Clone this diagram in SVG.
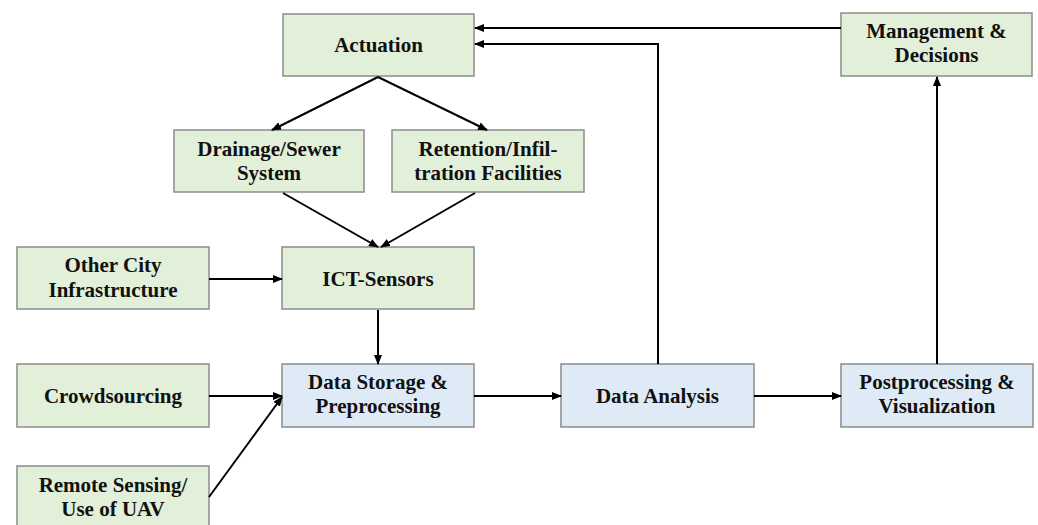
<svg xmlns="http://www.w3.org/2000/svg" width="1038" height="525" viewBox="0 0 1038 525">
<defs>
<marker id="ah" markerUnits="userSpaceOnUse" markerWidth="10" markerHeight="8" refX="9" refY="4" orient="auto">
<path d="M0,0 L10,4 L0,8 Z" fill="#000"/>
</marker>
<style>
.g{fill:#e2efd9;stroke:#8c8c8c;stroke-width:1.5}
.b{fill:#deebf7;stroke:#8c8c8c;stroke-width:1.5}
.t{font-family:'Liberation Serif','DejaVu Serif',serif;font-weight:bold;font-size:21px;fill:#111;text-anchor:middle}
.e{fill:none;stroke:#000;stroke-width:2;marker-end:url(#ah)}
</style>
</defs>
<rect width="1038" height="525" fill="#fff"/>
<g class="t" font-family="Liberation Serif, serif">
<g id="actuation"><rect class="g" x="283" y="14" width="191" height="62"/><text x="378.5" y="52">Actuation</text></g>
<g id="drainage"><rect class="g" x="174" y="130" width="190" height="62"/><text x="269" y="156">Drainage/Sewer</text><text x="269" y="180">System</text></g>
<g id="retention"><rect class="g" x="392" y="130" width="192" height="62"/><text x="488" y="156">Retention/Infil-</text><text x="488" y="180">tration Facilities</text></g>
<g id="other"><rect class="g" x="17" y="247" width="192" height="62"/><text x="113" y="272">Other City</text><text x="113" y="297">Infrastructure</text></g>
<g id="ict"><rect class="g" x="282" y="247" width="192" height="62"/><text x="378" y="286">ICT-Sensors</text></g>
<g id="crowd"><rect class="g" x="17" y="364" width="192" height="63"/><text x="113" y="403">Crowdsourcing</text></g>
<g id="storage"><rect class="b" x="282" y="364" width="192" height="63"/><text x="378" y="389">Data Storage &amp;</text><text x="378" y="413">Preprocessing</text></g>
<g id="remote"><rect class="g" x="17" y="466" width="192" height="63"/><text x="113" y="492">Remote Sensing/</text><text x="113" y="516">Use of UAV</text></g>
<g id="analysis"><rect class="b" x="561" y="364" width="193" height="63"/><text x="657.5" y="403">Data Analysis</text></g>
<g id="post"><rect class="b" x="841" y="364" width="192" height="63"/><text x="937" y="389">Postprocessing &amp;</text><text x="937" y="413">Visualization</text></g>
<g id="mgmt"><rect class="g" x="841" y="13" width="191" height="63"/><text x="936.5" y="38">Management &amp;</text><text x="936.5" y="62">Decisions</text></g>
</g>
<g id="connectors">
<path class="e" d="M378,77 L272,130"/>
<path class="e" d="M378,77 L487,130"/>
<path class="e" d="M283,193 L378,247"/>
<path class="e" d="M475,193 L381,247"/>
<path class="e" d="M209,279 L282,279"/>
<path class="e" d="M378,310 L378,364"/>
<path class="e" d="M209,396 L282,396"/>
<path class="e" d="M209,497 L282,397"/>
<path class="e" d="M474,396 L561,396"/>
<path class="e" d="M754,396 L841,396"/>
<path class="e" d="M937,364 L937,77"/>
<path class="e" d="M658,364 L658,44 L475,44"/>
<path class="e" d="M841,28 L475,28"/>
</g>
</svg>
